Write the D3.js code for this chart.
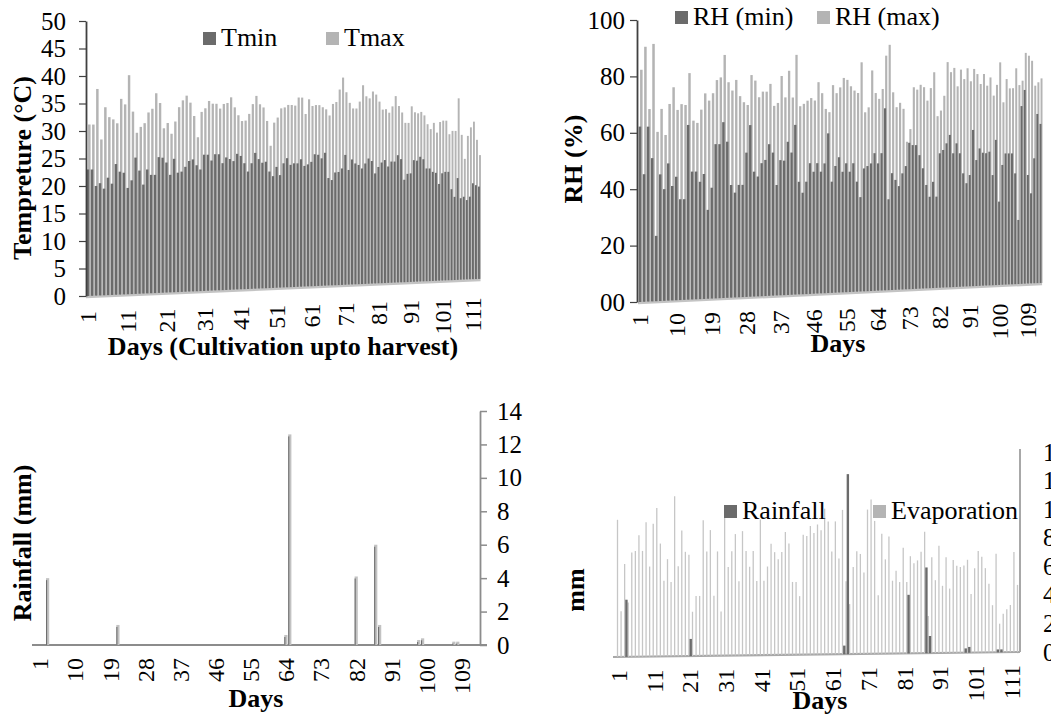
<!DOCTYPE html>
<html>
<head>
<meta charset="utf-8">
<script src="https://cdn.jsdelivr.net/npm/d3@7/dist/d3.min.js"></script>
<style>
  body { margin: 0; background: #fff; }
  svg { display: block; }
</style>
</head>
<body>
<svg id="chart" width="1051" height="722"></svg>
<script>
// daily weather from cultivation up to harvest (113 days)
var days = d3.range(1, 114);

var tMin = [23.0, 23.0, 20.0, 20.5, 19.5, 21.5, 20.4, 24.0, 22.6, 22.4,
  19.6, 21.0, 25.2, 22.8, 20.2, 23.0, 22.0, 22.0, 25.3, 25.2,
  24.3, 22.0, 25.0, 22.4, 22.6, 23.5, 24.6, 24.9, 23.8, 23.0,
  25.8, 25.8, 24.7, 25.9, 25.9, 24.2, 25.3, 25.0, 24.6, 26.0,
  25.6, 24.2, 22.6, 24.2, 26.2, 25.0, 24.3, 24.5, 22.6, 21.7,
  23.5, 21.9, 24.2, 25.2, 23.9, 24.2, 24.2, 25.0, 23.7, 24.0,
  24.5, 26.0, 25.9, 25.2, 26.3, 21.3, 20.9, 22.4, 22.5, 23.2,
  25.9, 22.9, 25.0, 24.2, 23.9, 23.2, 24.2, 25.2, 24.7, 22.2,
  23.5, 24.4, 24.9, 23.6, 24.6, 24.6, 25.9, 25.1, 20.9, 22.1,
  22.2, 24.9, 24.8, 25.6, 25.1, 23.2, 23.2, 22.5, 22.3, 20.0,
  22.2, 22.5, 22.5, 18.9, 17.3, 21.2, 17.0, 17.3, 16.6, 17.3,
  20.1, 19.7, 19.4];

var tMax = [31.0, 31.0, 37.5, 28.3, 34.2, 32.4, 32.0, 31.3, 35.8, 34.8,
  40.2, 33.5, 29.6, 30.7, 31.4, 33.4, 34.1, 37.0, 35.2, 30.5,
  31.5, 29.5, 31.8, 34.5, 35.8, 36.7, 35.4, 32.9, 28.9, 33.7,
  34.4, 35.8, 35.3, 35.3, 34.4, 35.3, 35.5, 36.6, 34.7, 33.2,
  32.1, 32.2, 33.5, 35.4, 37.0, 35.4, 34.8, 32.2, 27.4, 31.9,
  32.9, 34.7, 34.9, 35.4, 35.4, 35.3, 36.9, 36.9, 33.7, 36.6,
  35.3, 35.5, 35.5, 35.1, 34.7, 33.5, 35.8, 36.2, 38.7, 41.1,
  38.2, 36.1, 35.0, 35.0, 36.4, 39.7, 37.5, 37.1, 38.5, 37.9,
  36.5, 34.9, 35.0, 34.3, 35.6, 37.7, 35.7, 34.4, 32.3, 32.3,
  35.7, 34.5, 34.3, 34.6, 33.9, 32.1, 31.1, 32.4, 30.4, 32.6,
  32.9, 32.9, 30.1, 30.8, 30.8, 37.6, 30.0, 25.0, 29.8, 31.6,
  32.8, 29.0, 25.8];

var rhMin = [62.2, 45.3, 62.2, 51.0, 23.3, 45.2, 39.9, 49.1, 41.0, 44.3,
  36.2, 36.2, 62.9, 46.1, 46.1, 42.4, 45.2, 32.2, 40.2, 56.0,
  56.0, 64.0, 56.9, 41.1, 38.3, 41.1, 41.1, 52.9, 63.0, 45.9,
  44.1, 49.0, 50.2, 56.0, 52.9, 40.9, 50.1, 49.9, 56.9, 52.9,
  63.2, 42.0, 37.9, 42.0, 48.9, 45.7, 48.9, 45.7, 48.8, 60.1,
  41.9, 47.8, 51.1, 45.6, 48.8, 45.6, 48.8, 41.8, 35.9, 46.8,
  47.7, 48.7, 52.6, 48.7, 52.6, 69.8, 34.9, 44.9, 42.3, 39.9,
  44.8, 47.6, 56.6, 55.7, 55.7, 51.8, 46.7, 40.2, 35.6, 41.4,
  35.6, 52.5, 53.8, 56.4, 59.7, 52.5, 56.4, 52.5, 44.6, 40.7,
  43.9, 61.7, 49.8, 54.4, 52.7, 52.5, 53.1, 43.8, 57.8, 33.2,
  47.8, 52.4, 52.4, 52.4, 44.4, 25.7, 71.4, 77.9, 43.7, 36.3,
  50.4, 68.3, 64.3];

var rhMax = [82.0, 90.2, 68.1, 91.3, 60.0, 68.2, 58.9, 70.0, 76.0, 67.9,
  70.0, 69.7, 81.2, 64.1, 63.3, 68.1, 74.0, 71.4, 74.1, 78.9,
  79.9, 88.1, 78.2, 75.2, 79.1, 73.2, 71.0, 70.0, 81.0, 79.0,
  72.9, 75.0, 75.0, 77.9, 69.8, 70.9, 80.9, 73.0, 82.9, 73.0,
  88.9, 69.8, 70.7, 71.9, 72.9, 72.0, 78.9, 74.8, 68.9, 67.7,
  77.9, 74.9, 77.1, 80.7, 80.0, 77.6, 76.0, 75.1, 86.8, 67.8,
  69.7, 83.8, 75.2, 73.0, 76.8, 89.6, 93.8, 75.6, 69.9, 71.6,
  69.3, 56.6, 61.5, 77.7, 76.8, 78.7, 77.8, 72.6, 77.5, 83.7,
  66.6, 68.8, 74.6, 87.8, 83.9, 85.6, 78.4, 85.0, 81.3, 85.6,
  80.5, 85.4, 83.4, 79.5, 83.5, 78.9, 82.2, 75.0, 79.3, 88.3,
  72.4, 81.7, 78.0, 78.1, 86.1, 79.4, 81.2, 92.4, 91.3, 89.3,
  79.3, 80.7, 82.3];

var rainfall = [0, 0, 4.0, 0, 0, 0, 0, 0, 0, 0,
  0, 0, 0, 0, 0, 0, 0, 0, 0, 0,
  1.2, 0, 0, 0, 0, 0, 0, 0, 0, 0,
  0, 0, 0, 0, 0, 0, 0, 0, 0, 0,
  0, 0, 0, 0, 0, 0, 0, 0, 0, 0,
  0, 0, 0, 0, 0, 0, 0, 0, 0, 0,
  0, 0, 0, 0.6, 12.6, 0, 0, 0, 0, 0,
  0, 0, 0, 0, 0, 0, 0, 0, 0, 0,
  0, 4.1, 0, 0, 0, 0, 6.0, 1.2, 0, 0,
  0, 0, 0, 0, 0, 0, 0, 0.3, 0.4, 0,
  0, 0, 0, 0, 0, 0, 0.2, 0.2, 0, 0,
  0, 0, 0];

var evaporation = [9.6, 3.2, 6.5, 3.8, 7.3, 7.4, 8.5, 7.4, 9.4, 6.3,
  9.3, 10.4, 7.9, 5.3, 6.8, 5.2, 11.2, 6.3, 8.8, 7.3,
  7.1, 3.1, 4.2, 4.2, 9.5, 7.3, 8.8, 4.2, 7.3, 3.1,
  9.9, 6.2, 7.3, 8.5, 5.2, 8.7, 7.3, 6.2, 7.3, 5.2,
  9.5, 5.2, 6.2, 7.8, 7.2, 6.7, 7.2, 8.6, 7.8, 5.1,
  5.1, 4.1, 8.4, 8.3, 9.0, 8.5, 9.1, 8.7, 10.2, 9.3,
  7.2, 9.3, 6.7, 10.1, 5.1, 3.5, 6.1, 7.2, 7.0, 5.7,
  10.1, 10.8, 9.3, 4.1, 8.4, 6.6, 8.2, 5.1, 5.8, 5.0,
  7.4, 5.0, 6.8, 6.3, 6.5, 7.1, 8.5, 2.6, 6.7, 5.1,
  7.5, 4.7, 6.7, 4.5, 6.5, 6.1, 6.0, 6.1, 6.5, 4.1,
  5.9, 7.1, 6.7, 5.9, 4.8, 3.3, 6.9, 2.0, 2.7, 3.0,
  3.3, 7.0, 4.7];

var tempTicks = [0, 5, 10, 15, 20, 25, 30, 35, 40, 45, 50];
var rhTicks = [0, 20, 40, 60, 80, 100];
var mmTicks = [0, 2, 4, 6, 8, 10, 12, 14];
var dayTicksBy10 = [1, 11, 21, 31, 41, 51, 61, 71, 81, 91, 101, 111];
var dayTicksBy9 = [1, 10, 19, 28, 37, 46, 55, 64, 73, 82, 91, 100, 109];

var FONT = '"Liberation Serif", "Times New Roman", serif';
var DARK = '#6b6b6b';
var LIGHT = '#b4b4b4';
var AXIS = '#404040';

var svg = d3.select('#chart').attr('font-family', FONT);
svg.append('rect').attr('width', 1051).attr('height', 722).attr('fill', '#fff');

// the two upper charts are Excel 3-D columns: days recede to the right
function projector(x0, width, depth, horizon) {
  var t = d3.scaleLinear().domain([1, days.length]).range([0, 1]);
  return {
    x: function (d) { return x0 + width * (1 + depth) * t(d) / (1 + depth * t(d)); },
    y: function (d, yFlat) { return horizon + (yFlat - horizon) / (1 + depth * t(d)); }
  };
}

function columnPanel(o) {
  var g = svg.append('g');
  var y = d3.scaleLinear().domain(o.yDomain).range(o.yRange);
  var p = projector(o.x0, o.width, o.depth, o.horizon);
  var step = function (d) { return (p.x(d + 1) - p.x(d - 1)) / 2; };
  var rows = days.map(function (d, i) { return { day: d, back: o.back[i], front: o.front[i] }; });
  var n = days.length;

  g.append('line')
    .attr('x1', p.x(1) - step(1) / 2).attr('y1', p.y(1, y(0)) + 1)
    .attr('x2', p.x(n) + step(n) / 2).attr('y2', p.y(n, y(0)) + 1)
    .attr('stroke', '#c4c4c4').attr('stroke-width', 2.5);

  g.selectAll(null).data(rows).enter().append('rect')
    .attr('x', function (d) { return p.x(d.day) + 0.02 * step(d.day); })
    .attr('y', function (d) { return p.y(d.day, y(d.back)) - 1; })
    .attr('width', function (d) { return 0.62 * step(d.day); })
    .attr('height', function (d) { return p.y(d.day, y(0)) - p.y(d.day, y(d.back)) + 1; })
    .attr('fill', LIGHT);

  g.selectAll(null).data(rows).enter().append('rect')
    .attr('x', function (d) { return p.x(d.day) - 0.32 * step(d.day); })
    .attr('y', function (d) { return p.y(d.day, y(d.front)); })
    .attr('width', function (d) { return 0.62 * step(d.day); })
    .attr('height', function (d) { return p.y(d.day, y(0)) - p.y(d.day, y(d.front)); })
    .attr('fill', DARK);

  var ax = g.append('g').attr('transform', 'translate(' + o.axisX + ',0)')
    .call(d3.axisLeft(y).tickValues(o.yTicks).tickFormat(o.fmt)
      .tickSize(7).tickSizeOuter(0).tickPadding(o.pad))
    .attr('font-family', FONT).attr('font-size', 25);
  ax.select('.domain').attr('stroke', AXIS).attr('stroke-width', 1.8);
  ax.selectAll('.tick line').attr('stroke', AXIS).attr('stroke-width', 1.2);
  ax.selectAll('.tick text').attr('fill', '#000');

  g.selectAll(null).data(o.xTicks).enter().append('text')
    .attr('transform', function (d) {
      return 'translate(' + p.x(d) + ',' + o.labelY(d) + ') rotate(-90)';
    })
    .attr('text-anchor', 'end').attr('dy', '0.35em').attr('font-size', 24)
    .text(function (d) { return d; });
  return g;
}

function legendItem(x, y, color, label) {
  svg.append('rect').attr('x', x).attr('y', y - 13).attr('width', 13).attr('height', 13).attr('fill', color);
  svg.append('text').attr('x', x + 18).attr('y', y + 1).attr('font-size', 26).text(label);
}

function title(text, x, y, rotate) {
  svg.append('text')
    .attr('transform', 'translate(' + x + ',' + y + ')' + (rotate ? ' rotate(-90)' : ''))
    .attr('text-anchor', 'middle').attr('dy', rotate ? '0.35em' : 0)
    .attr('font-size', 26).attr('font-weight', 'bold').text(text);
}

// temperature
columnPanel({
  yDomain: [0, 50], yRange: [296, 21], yTicks: tempTicks, fmt: d3.format('d'),
  x0: 88, width: 391, depth: 0.155, horizon: 169,
  back: tMax, front: tMin, axisX: 86, pad: 13,
  xTicks: dayTicksBy10, labelY: function (d) { return 311 - 14 * (d - 1) / 112; }
});
legendItem(203, 45, DARK, 'Tmin');
legendItem(326, 45, LIGHT, 'Tmax');
title('Tempreture (°C)', 22, 168, true);
title('Days (Cultivation upto harvest)', 283, 355, false);

// relative humidity
columnPanel({
  yDomain: [0, 100], yRange: [302, 20], yTicks: rhTicks, fmt: d3.format('02d'),
  x0: 640, width: 400.5, depth: 0.14, horizon: 147,
  back: rhMax, front: rhMin, axisX: 637, pad: 5,
  xTicks: dayTicksBy9, labelY: function (d) { return 314 - 12 * (d - 1) / 112; }
});
legendItem(675, 24, DARK, 'RH (min)');
legendItem(817, 24, LIGHT, 'RH (max)');
title('RH (%)', 573, 159, true);
title('Days', 838, 352, false);

// rainfall
(function () {
  var g = svg.append('g');
  var x = d3.scaleLinear().domain([1, 113]).range([39.8, 477.3]);
  var y = d3.scaleLinear().domain([0, 14]).range([645, 411]);
  var wet = days.map(function (d, i) { return { day: d, v: rainfall[i] }; })
    .filter(function (d) { return d.v > 0; });

  g.append('line').attr('x1', 32).attr('x2', 487).attr('y1', y(0)).attr('y2', y(0))
    .attr('stroke', '#8c8c8c').attr('stroke-width', 1.8);

  g.selectAll(null).data(wet).enter().append('rect')
    .attr('x', function (d) { return x(d.day) - 1.6; })
    .attr('y', function (d) { return y(d.v); })
    .attr('width', 3.2)
    .attr('height', function (d) { return y(0) - y(d.v); })
    .attr('fill', '#c2c2c2');
  g.selectAll(null).data(wet).enter().append('rect')
    .attr('x', function (d) { return x(d.day) - 1.6; })
    .attr('y', function (d) { return y(d.v) + 2; })
    .attr('width', 1.1)
    .attr('height', function (d) { return Math.max(0, y(0) - y(d.v) - 2); })
    .attr('fill', '#6e6e6e');

  var ax = g.append('g').attr('transform', 'translate(480,0)')
    .call(d3.axisRight(y).tickValues(mmTicks).tickSize(7).tickSizeOuter(0).tickPadding(10))
    .attr('font-family', FONT).attr('font-size', 25);
  ax.select('.domain').attr('stroke', '#8c8c8c').attr('stroke-width', 1.8);
  ax.selectAll('.tick line').attr('stroke', '#8c8c8c').attr('stroke-width', 1.5);
  ax.selectAll('.tick text').attr('fill', '#000');

  g.selectAll(null).data(dayTicksBy9).enter().append('text')
    .attr('transform', function (d) { return 'translate(' + x(d) + ',658) rotate(-90)'; })
    .attr('text-anchor', 'end').attr('dy', '0.35em').attr('font-size', 24)
    .text(function (d) { return d; });
})();
title('Rainfall (mm)', 22, 543, true);
title('Days', 256, 707, false);

// rainfall and evaporation
(function () {
  var g = svg.append('g');
  var x = d3.scaleLinear().domain([1, 113]).range([617.5, 1017.5]);
  var y = d3.scaleLinear().domain([0, 14]).range([652, 452]);
  var drop = d3.scaleLinear().domain([613, 1020]).range([5, 0]);
  var step = x(2) - x(1);
  var rows = days.map(function (d, i) { return { day: d, evap: evaporation[i], rain: rainfall[i] }; });

  g.append('line').attr('x1', 613).attr('y1', 657).attr('x2', 1020).attr('y2', 652)
    .attr('stroke', '#a8a8a8').attr('stroke-width', 2.2);
  g.append('line').attr('x1', 1020).attr('y1', 449).attr('x2', 1020).attr('y2', 652)
    .attr('stroke', '#a8a8a8').attr('stroke-width', 2);

  g.selectAll(null).data(rows).enter().append('line')
    .attr('x1', function (d) { return x(d.day); })
    .attr('x2', function (d) { return x(d.day); })
    .attr('y1', function (d) { return y(0) + drop(x(d.day)); })
    .attr('y2', function (d) { return y(d.evap) + drop(x(d.day)); })
    .attr('stroke', '#c6c6c6').attr('stroke-width', 1.3);

  g.selectAll(null).data(rows.filter(function (d) { return d.rain > 0; })).enter().append('rect')
    .attr('x', function (d) { return x(d.day) + step / 2 - 1.2; })
    .attr('y', function (d) { return y(d.rain) + drop(x(d.day)); })
    .attr('width', 2.4)
    .attr('height', function (d) { return y(0) - y(d.rain); })
    .attr('fill', DARK);

  var ax = g.append('g').attr('transform', 'translate(1036,0)')
    .call(d3.axisRight(y).tickValues(mmTicks).tickSize(0).tickPadding(7))
    .attr('font-family', FONT).attr('font-size', 25);
  ax.select('.domain').remove();
  ax.selectAll('.tick text').attr('fill', '#000');

  g.selectAll(null).data(dayTicksBy10).enter().append('text')
    .attr('transform', function (d) {
      return 'translate(' + (x(d) + 1) + ',' + (670 - 5 * (d - 1) / 112) + ') rotate(-90)';
    })
    .attr('text-anchor', 'end').attr('dy', '0.35em').attr('font-size', 24)
    .text(function (d) { return d; });
})();
legendItem(724, 518, DARK, 'Rainfall');
legendItem(873, 518, LIGHT, 'Evaporation');
title('mm', 575, 590, true);
title('Days', 820, 709, false);
</script>
</body>
</html>
